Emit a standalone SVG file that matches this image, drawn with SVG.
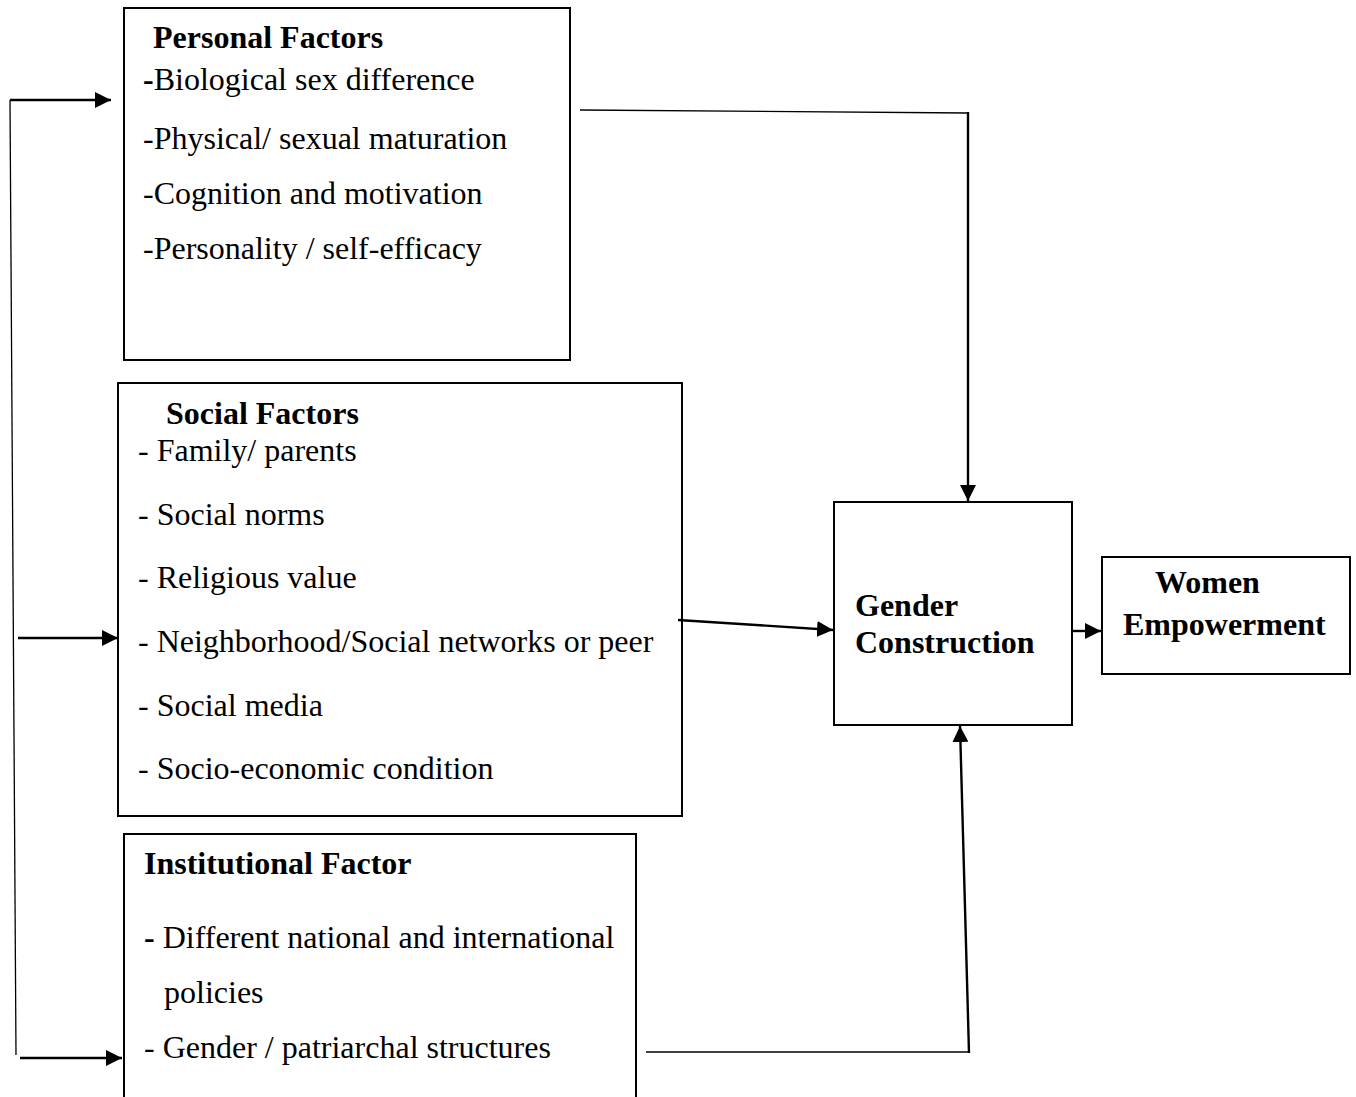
<svg xmlns="http://www.w3.org/2000/svg" width="1356" height="1097" viewBox="0 0 1356 1097">
<style>
text{font-family:"Liberation Serif","Times New Roman",serif;font-size:32px;fill:#000}
.b{font-weight:bold}
.box{fill:#fff;stroke:#000;stroke-width:2}
.ln{fill:none;stroke:#000;stroke-width:2.4}
.thin{fill:none;stroke:#000;stroke-width:1.3}
</style>
<defs>
<marker id="ah2" viewBox="0 0 10 10" refX="10" refY="5" markerWidth="16" markerHeight="16" markerUnits="userSpaceOnUse" orient="auto">
<path d="M0,0 L10,5 L0,10 z" fill="#000"/>
</marker>
</defs>
<rect width="1356" height="1097" fill="#fff"/>
<g id="personal">
<rect class="box" x="124" y="8" width="446" height="352"/>
<text class="b" x="153" y="48">Personal Factors</text>
<text x="143" y="90"><tspan class="b">-</tspan>Biological sex difference</text>
<text x="143" y="149">-Physical/ sexual maturation</text>
<text x="143" y="204">-Cognition and motivation</text>
<text x="143" y="259">-Personality / self-efficacy</text>
</g>
<g id="social">
<rect class="box" x="118" y="383" width="564" height="433"/>
<text class="b" x="166" y="424">Social Factors</text>
<text x="138" y="461">- Family/ parents</text>
<text x="138" y="525">- Social norms</text>
<text x="138" y="588">- Religious value</text>
<text x="138" y="652">- Neighborhood/Social networks or peer</text>
<text x="138" y="716">- Social media</text>
<text x="138" y="779">- Socio-economic condition</text>
</g>
<g id="institutional">
<path class="box" d="M124,1097 V834 H636 V1097"/>
<text class="b" x="144" y="874">Institutional Factor</text>
<text x="144" y="948"><tspan class="b">-</tspan> Different national and international</text>
<text x="164" y="1003">policies</text>
<text x="144" y="1058">- Gender / patriarchal structures</text>
</g>
<g id="gender">
<rect class="box" x="834" y="502" width="238" height="223"/>
<text class="b" x="855" y="616">Gender</text>
<text class="b" x="855" y="653">Construction</text>
</g>
<g id="women">
<rect class="box" x="1102" y="557" width="248" height="117"/>
<text class="b" x="1155" y="593">Women</text>
<text class="b" x="1123" y="635">Empowerment</text>
</g>
<g id="connectors">
<path class="thin" d="M10,100 L16,1055"/>
<path class="ln" d="M10,100 H111" marker-end="url(#ah2)"/>
<path class="ln" d="M18,638 H118" marker-end="url(#ah2)"/>
<path class="ln" d="M20,1058 H122" marker-end="url(#ah2)"/>
<path class="thin" d="M580,110 L968,113"/>
<path class="ln" d="M968,112 V501" marker-end="url(#ah2)"/>
<path class="ln" d="M678,620 L833,630" marker-end="url(#ah2)"/>
<path class="ln" d="M1072,631 H1101" marker-end="url(#ah2)"/>
<path class="thin" d="M646,1052 H970"/>
<path class="ln" d="M969,1053 L960,726" marker-end="url(#ah2)"/>
</g>
</svg>
